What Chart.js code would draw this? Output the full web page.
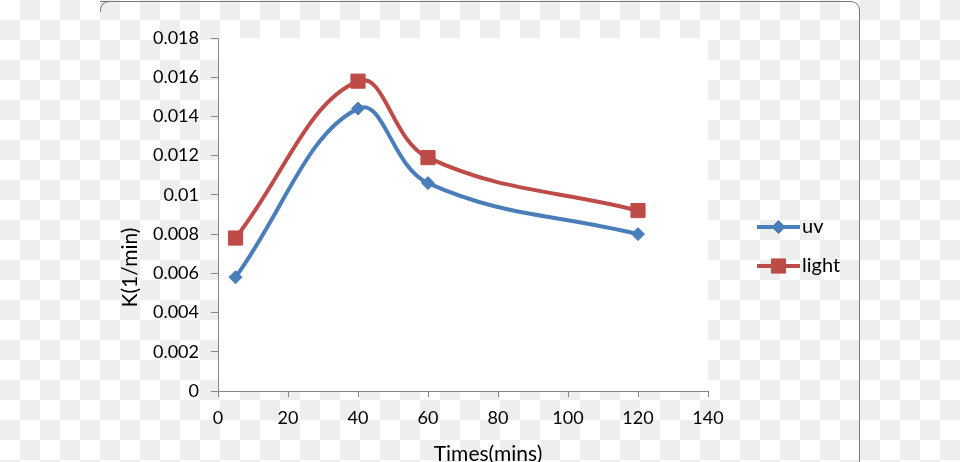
<!DOCTYPE html>
<html>
<head>
<meta charset="utf-8">
<script src="https://cdn.jsdelivr.net/npm/chart.js@4"></script>
<style>
html, body { margin: 0; padding: 0; }
body {
    width: 960px; height: 462px; overflow: hidden; position: relative;
    background-color: #fff;
    background-image: conic-gradient(#eeeeee 0 25%, #fff 0 50%, #eeeeee 0 75%, #fff 0);
    background-size: 40px 40px;
}
#frame {
    position: absolute; left: 100px; top: 1px; width: 759px; height: 480px;
    border-top: 1px solid #777; border-right: 1px solid #777;
    border-top-right-radius: 9px;
}
#corner {
    position: absolute; left: 100px; top: 1px; width: 20px; height: 10px;
    border-top: 1px solid #777; border-left: 1px solid #777;
    border-top-left-radius: 9px;
}
canvas { position: absolute; left: 0; top: 0; }
</style>
</head>
<body>
<div id="frame"></div>
<div id="corner"></div>
<canvas id="k-chart" width="960" height="462"></canvas>
<script>
var times = [5, 40, 60, 120];
var uvK = [0.0058, 0.0144, 0.0106, 0.0080];
var lightK = [0.0078, 0.0158, 0.0119, 0.0092];
var xTickLabels = ["0", "20", "40", "60", "80", "100", "120", "140"];
var yTickLabels = ["0", "0.002", "0.004", "0.006", "0.008", "0.01", "0.012", "0.014", "0.016", "0.018"];

var blue = "#4a7ebb";
var red = "#be4b48";
var axisGray = "#868686";
var fontFamily = "Lato, 'Liberation Sans', sans-serif";

function toPoints(values) {
    return values.map(function (v, i) {
        return { x: times[i], y: v };
    });
}

// white plot area over the checkered page
var plotBackground = {
    id: "plotBackground",
    beforeDraw: function (chart) {
        var a = chart.chartArea;
        var ctx = chart.ctx;
        ctx.save();
        ctx.fillStyle = "#fff";
        ctx.fillRect(a.left, a.top, a.right - a.left, a.bottom - a.top);
        ctx.restore();
    }
};

// axis titles sit off-centre in the original, so draw them here
var axisTitles = {
    id: "axisTitles",
    afterDraw: function (chart) {
        var a = chart.chartArea;
        var ctx = chart.ctx;
        ctx.save();
        ctx.fillStyle = "#000";
        ctx.font = "21px " + fontFamily;
        ctx.textAlign = "center";
        ctx.textBaseline = "middle";
        ctx.fillText("Times(mins)", (a.left + a.right) / 2 + 25, a.bottom + 63);
        ctx.translate(a.left - 88, (a.top + a.bottom) / 2 + 53);
        ctx.rotate(-Math.PI / 2);
        ctx.fillText("K(1/min)", 0, 0);
        ctx.restore();
    }
};

// legend with a short line through the marker, like the original
var lineLegend = {
    id: "lineLegend",
    afterDraw: function (chart) {
        var a = chart.chartArea;
        var ctx = chart.ctx;
        ctx.save();
        chart.data.datasets.forEach(function (ds, i) {
            var y = a.top + 189 + i * 39;
            var x0 = a.right + 49;
            var x1 = a.right + 92;
            ctx.strokeStyle = ds.borderColor;
            ctx.lineWidth = ds.borderWidth;
            ctx.beginPath();
            ctx.moveTo(x0, y);
            ctx.lineTo(x1, y);
            ctx.stroke();
            ctx.fillStyle = ds.pointBackgroundColor;
            ctx.strokeStyle = ds.pointBorderColor;
            ctx.lineWidth = 1;
            Chart.helpers.drawPoint(ctx, {
                pointStyle: ds.pointStyle,
                radius: ds.pointRadius,
                rotation: 0,
                borderWidth: 1
            }, (x0 + x1) / 2, y);
            ctx.fillStyle = "#000";
            ctx.font = "20px " + fontFamily;
            ctx.textAlign = "left";
            ctx.textBaseline = "middle";
            ctx.fillText(ds.label, x1 + 2, y);
        });
        ctx.restore();
    }
};

var ctx = document.getElementById("k-chart").getContext("2d");
var chart = new Chart(ctx, {
    type: "line",
    data: {
        datasets: [
            {
                label: "uv",
                data: toPoints(uvK),
                borderColor: blue,
                borderWidth: 4,
                pointStyle: "rectRot",
                pointRadius: 6.5,
                pointBackgroundColor: blue,
                pointBorderColor: blue,
                pointBorderWidth: 1,
                tension: 0.4,
                fill: false
            },
            {
                label: "light",
                data: toPoints(lightK),
                borderColor: red,
                borderWidth: 4,
                pointStyle: "rect",
                pointRadius: 10,
                pointBackgroundColor: red,
                pointBorderColor: red,
                pointBorderWidth: 1,
                tension: 0.4,
                fill: false
            }
        ]
    },
    options: {
        responsive: false,
        animation: false,
        devicePixelRatio: 1,
        layout: { padding: { top: 38, right: 252, left: 0, bottom: 0 } },
        plugins: {
            legend: { display: false },
            tooltip: { enabled: false }
        },
        scales: {
            x: {
                type: "linear",
                min: 0,
                max: 140,
                ticks: {
                    stepSize: 20,
                    padding: 10,
                    color: "#000",
                    font: { family: fontFamily, size: 18 },
                    callback: function (v, i) { return xTickLabels[i]; }
                },
                grid: { drawOnChartArea: false, drawTicks: true, tickLength: 6, color: axisGray },
                border: { color: axisGray, width: 1 },
                afterFit: function (scale) { scale.height = 71; }
            },
            y: {
                min: 0,
                max: 0.018,
                ticks: {
                    stepSize: 0.002,
                    padding: 12,
                    color: "#000",
                    font: { family: fontFamily, size: 18 },
                    callback: function (v, i) { return yTickLabels[i]; }
                },
                grid: { drawOnChartArea: false, drawTicks: true, tickLength: 7, color: axisGray },
                border: { color: axisGray, width: 1 },
                afterFit: function (scale) { scale.width = 218; }
            }
        }
    },
    plugins: [plotBackground, axisTitles, lineLegend]
});
</script>
</body>
</html>
